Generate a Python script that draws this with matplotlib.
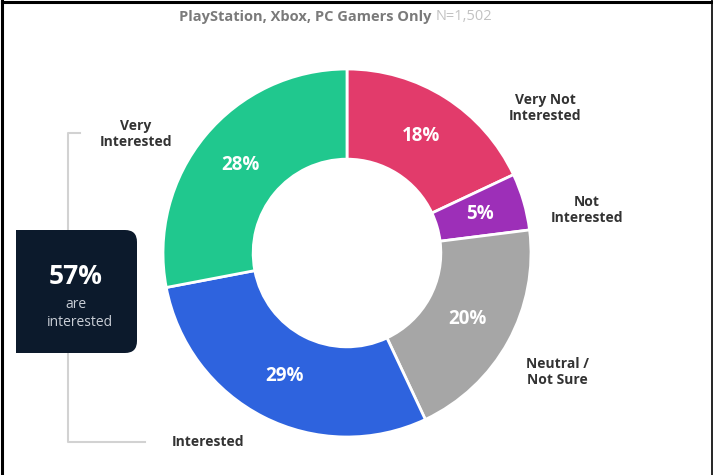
import matplotlib.pyplot as plt
from matplotlib.patches import FancyBboxPatch, Rectangle
from matplotlib.lines import Line2D

plt.rcParams['font.family'] = ['Open Sans', 'DejaVu Sans']

# survey shares, clockwise from 12 o'clock
categories = ['Very Not\nInterested', 'Not\nInterested', 'Neutral /\nNot Sure',
              'Interested', 'Very\nInterested']
shares = [18, 5, 20, 29, 28]
colors = ['#e23b6b', '#9d2fb8', '#a6a6a6', '#2e63de', '#20c88e']
interested_total = shares[3] + shares[4]

W, H = 713, 475
fig = plt.figure(figsize=(W / 100, H / 100), dpi=100)

# donut, centre (347, 253) px, outer radius 184 px
cx, cy, R = 347, 253, 184
ax = fig.add_axes([(cx - R) / W, (H - cy - R) / H, 2 * R / W, 2 * R / H])
wedges, _, pcts = ax.pie(
    shares, colors=colors, startangle=90, counterclock=False, radius=1,
    autopct=lambda p: f'{p:.0f}%', pctdistance=0.75,
    wedgeprops=dict(width=0.49, edgecolor='white', linewidth=2),
    textprops=dict(color='white', fontsize=13.5, fontweight='bold'))
ax.set_xlim(-1, 1)
ax.set_ylim(-1, 1)
ax.set_aspect('equal')
ax.axis('off')

# overlay in pixel coordinates for annotations
ov = fig.add_axes([0, 0, 1, 1], zorder=-1)
ov.set_xlim(0, W)
ov.set_ylim(H, 0)
ov.axis('off')

# frame
ov.add_line(Line2D([1.5, W], [1.5, 1.5], color='black', lw=2.2))
ov.add_line(Line2D([1.5, 1.5], [0, H], color='black', lw=2.2))
ov.add_line(Line2D([711.5, 711.5], [0, H], color='black', lw=1.2))

# title: main part in grey, sample size lighter
t1 = ov.text(179, 17, 'PlayStation, Xbox, PC Gamers Only ', fontsize=10.5,
             fontweight='bold', color='#7a7a7a', ha='left', va='center')
fig.canvas.draw()
bb = t1.get_window_extent()
x_end = ov.transData.inverted().transform((bb.x1, bb.y0))[0]
ov.text(x_end, 17, 'N=1,502', fontsize=10.5, color='#c2c2c2',
        ha='left', va='center')

# outside labels
label_pos = [(545, 108), (587, 210), (557, 372), (208, 442), (136, 134)]
for name, (x, y) in zip(categories, label_pos):
    ov.text(x, y, name, fontsize=10, fontweight='bold', color='#333333',
            ha='center', va='center', linespacing=1.25)

# bracket on the left
ov.add_line(Line2D([80, 68, 68, 145], [133, 133, 442, 442],
                   color='#d2d2d2', lw=1.5, zorder=1))

# callout box
ov.add_patch(FancyBboxPatch((16, 230), 121, 123,
                            boxstyle='round,pad=0,rounding_size=12',
                            fc='#0c1a2c', ec='none', zorder=3))
ov.add_patch(Rectangle((16, 230), 30, 123, fc='#0c1a2c', ec='none', zorder=3))
ov.text(76, 277, f'{interested_total}%', fontsize=19, fontweight='bold',
        color='white', ha='center', va='center', zorder=4)
ov.text(76, 304, 'are', fontsize=10, color='#c9ced6', ha='center',
        va='center', zorder=4)
ov.text(80, 322, 'interested', fontsize=10, color='#c9ced6',
        ha='center', va='center', zorder=4)

fig.savefig('out.png', dpi=100)
